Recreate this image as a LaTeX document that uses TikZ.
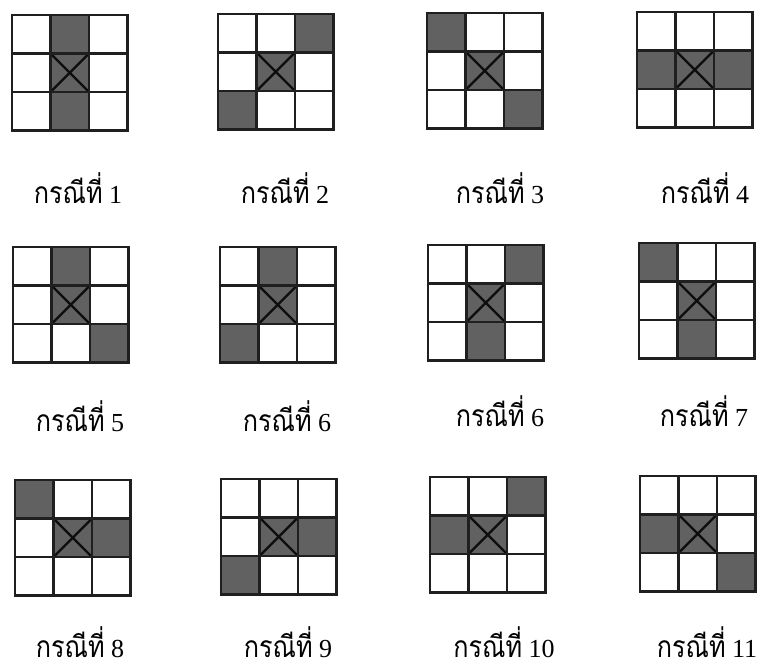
\documentclass[tikz,border=0pt]{standalone}
\usepackage{fontspec}
\setmainfont{Liberation Serif}
\newfontfamily\thaifont[Script=Thai, FakeStretch=0.84]{Loma}
\newcommand\cellsz{38.5}
\tikzset{
  cellshade/.style={fill=black!62},
  gridline/.style={line width=2.8pt, draw=black!88, line cap=rect},
  xline/.style={line width=2.4pt, draw=black!95},
  caselabel/.style={anchor=base, inner sep=0pt}
}
\newcommand\casegrid[3]{%
  \begin{scope}[shift={(#1,#2)}]
    \foreach \r/\c in {#3} {
      \fill[cellshade] (\c*\cellsz, \r*\cellsz) rectangle ++(\cellsz,\cellsz);
    }
    \draw[xline] (\cellsz,\cellsz) -- (2*\cellsz,2*\cellsz)
                 (2*\cellsz,\cellsz) -- (\cellsz,2*\cellsz);
    \foreach \i in {0,1,2,3} {
      \draw[gridline] (\i*\cellsz,0) -- (\i*\cellsz,3*\cellsz);
      \draw[gridline] (0,\i*\cellsz) -- (3*\cellsz,\i*\cellsz);
    }
  \end{scope}}
\newcommand\caselab[4]{\node[caselabel] (#1) at (#2,#3)
  {\fontsize{30}{34}\selectfont\thaifont กรณีที่\fontsize{26}{30}\selectfont\rmfamily\ #4};}
\begin{document}
\begin{tikzpicture}[x=1pt,y=-1pt]
\fill[white] (0,0) rectangle (759,669);
\useasboundingbox (0,0) rectangle (759,669);
% row 1
\casegrid{12}{15}{0/1,1/1,2/1}
\casegrid{218}{14}{0/2,1/1,2/0}
\casegrid{427}{13}{0/0,1/1,2/2}
\casegrid{637}{12}{1/0,1/1,1/2}
% row 2
\casegrid{13}{247}{0/1,1/1,2/2}
\casegrid{220}{247}{0/1,1/1,2/0}
\casegrid{428}{245}{0/2,1/1,2/1}
\casegrid{639}{243}{0/0,1/1,2/1}
% row 3
\casegrid{15}{480}{0/0,1/1,1/2}
\casegrid{221}{479}{1/1,1/2,2/0}
\casegrid{430}{477}{0/2,1/0,1/1}
\casegrid{640}{476}{1/0,1/1,2/2}
% labels
\caselab{l1}{78}{203}{1}
\caselab{l2}{285}{203}{2}
\caselab{l3}{500}{203}{3}
\caselab{l4}{705}{203}{4}
\caselab{l5}{80}{431}{5}
\caselab{l6}{287}{431}{6}
\caselab{l6b}{500}{426}{6}
\caselab{l7}{704}{426}{7}
\caselab{l8}{80}{657}{8}
\caselab{l9}{288}{657}{9}
\caselab{l10}{504}{657}{10}
\caselab{l11}{707}{657}{11}
\end{tikzpicture}
\end{document}
